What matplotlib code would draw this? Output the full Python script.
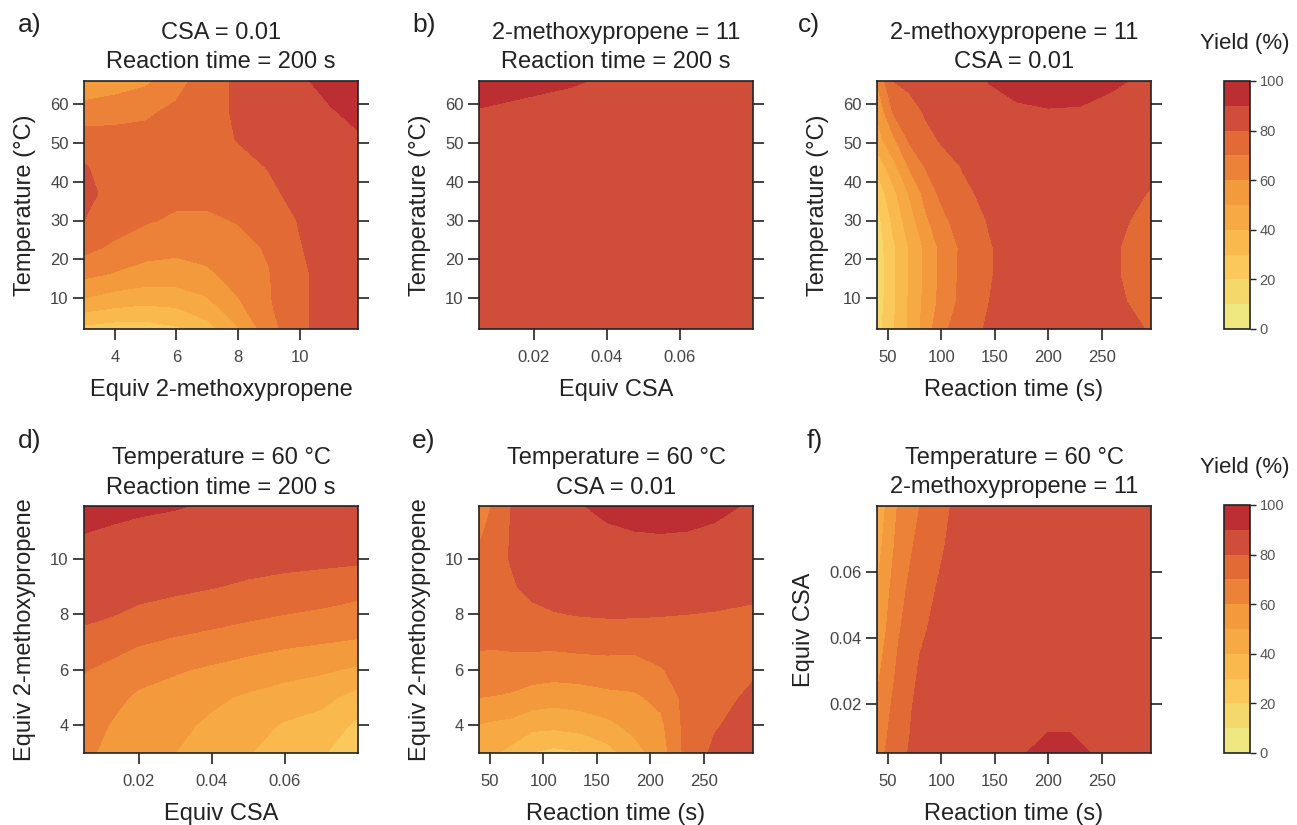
import matplotlib
matplotlib.use("Agg")
import matplotlib.pyplot as plt
import numpy as np

plt.rcParams['font.family'] = ['Liberation Sans', 'DejaVu Sans']

# yield bands (%) and their fill colours
yield_levels = [0, 10, 20, 30, 40, 50, 60, 70, 80, 90, 100]
yield_colors = ['#efe77f', '#f5d86a', '#fbc95b', '#f9b94d', '#f7aa44',
                '#f39a3d', '#ec8238', '#e26a35', '#d04d39', '#bc2e32']
cbar_ticks = [0, 20, 40, 60, 80, 100]

# a) temperature vs equiv 2-methoxypropene (CSA = 0.01, 200 s)
a_equiv = [3, 4, 5, 6, 7, 8, 9, 10, 11, 11.9]
a_temp = [2, 9, 16, 23, 30, 37, 44, 51, 58, 66]
a_yield = [
    [27, 25, 25, 28.5, 36, 49, 66, 78, 84, 86],
    [48, 44, 42, 43, 48, 59, 69, 78, 84, 86],
    [62, 59, 56, 55.5, 58, 64, 69.5, 78, 84, 86],
    [73, 68, 64, 62.5, 64, 67, 71, 79.5, 84, 86],
    [80, 75, 71, 68.5, 68.5, 70.5, 75, 80.5, 85, 86.5],
    [82.5, 77, 74, 72.5, 72.5, 74, 78, 83, 86, 87.5],
    [80.5, 77, 75, 74, 74.5, 77, 80.5, 85, 87.5, 88.5],
    [75, 74, 73, 73.5, 75.5, 80.5, 84.5, 87.5, 89, 89.3],
    [64, 66, 68.5, 72, 76, 81.5, 85.5, 88, 89.5, 91.5],
    [53, 55, 58, 66.5, 75, 82, 86, 89, 92, 95],
]

# b) temperature vs equiv CSA (2-methoxypropene = 11, 200 s)
b_csa = [0.005, 0.03, 0.055, 0.08]
b_temp = [2, 23, 45, 66]
b_yield = [
    [86, 86, 85.5, 85],
    [86.5, 86, 86, 85.5],
    [87, 86.5, 86, 85.5],
    [91.5, 90.3, 88.8, 87.5],
]

# c) temperature vs reaction time (2-methoxypropene = 11, CSA = 0.01)
c_time = [40, 55, 70, 85, 100, 120, 145, 170, 200, 230, 260, 296]
c_temp = [2, 9, 16, 23, 30, 37, 44, 51, 58, 66]
c_yield = [
    [16, 29, 41.5, 54, 67.5, 75, 81.5, 84, 85, 84.5, 82.5, 79.5],
    [14, 28, 41, 52.5, 63, 73, 80, 83, 84, 83.5, 81.5, 77.5],
    [13, 28, 40.5, 51.5, 62.5, 72.5, 79.5, 83, 84, 83.5, 81, 76],
    [14, 28, 40.5, 51.5, 62.5, 72, 79.5, 83, 84, 83.5, 81, 76],
    [16, 32.5, 45, 58, 66.5, 76, 80.5, 83.5, 84.5, 84, 82, 77.5],
    [23, 37, 50.5, 63, 72.5, 78, 82.5, 85, 86, 85.5, 83.5, 79.5],
    [33, 46.5, 61, 70.5, 76, 80.5, 84.5, 86.5, 87.5, 87, 85.5, 82],
    [46, 58, 71.5, 77, 81, 84, 86.5, 88, 88.5, 88, 86.5, 84],
    [51, 70.5, 75, 81, 84, 86, 88, 89, 89.5, 89.3, 88, 86],
    [61, 80, 83, 85, 86.5, 88, 90.2, 92, 93.5, 93, 91, 88.5],
]

# d) equiv 2-methoxypropene vs equiv CSA (60 C, 200 s)
d_csa = [0.005, 0.0125, 0.02, 0.03, 0.04, 0.05, 0.06, 0.07, 0.08]
d_equiv = [3, 4, 5, 6, 7, 8, 9, 10, 11, 11.9]
d_yield = [
    [62, 57.5, 53, 50, 45, 40.5, 35.5, 31, 24],
    [64, 59.5, 55.5, 52.5, 48, 43.5, 39, 36, 28],
    [66.5, 62.5, 58.5, 56, 52, 48.5, 45.5, 43, 36],
    [70.5, 67.5, 63.5, 61, 58.5, 56, 53.5, 51.5, 48.5],
    [77, 74, 71, 68.5, 66.5, 64, 62, 60.5, 59],
    [82, 80.5, 78, 76, 74, 72, 70, 68.5, 67],
    [85.5, 84.5, 83.5, 82, 80.5, 78.5, 77, 75.5, 73],
    [88, 87.5, 87, 86, 85, 84, 83, 82.5, 82],
    [90.2, 89.5, 89, 88.5, 88, 87.3, 86.5, 86, 85.5],
    [92.5, 91.5, 90.8, 90.3, 89.5, 88.8, 88, 87.5, 87],
]

# e) equiv 2-methoxypropene vs reaction time (60 C, CSA = 0.01)
e_time = [40, 55, 70, 90, 110, 135, 160, 185, 210, 235, 260, 296]
e_equiv = [3, 4, 5, 6, 7, 8, 9, 10, 11, 11.9]
e_yield = [
    [45, 41, 37, 29.5, 27, 29, 36, 46, 55, 74, 82, 88],
    [49.5, 48, 47, 43, 42.5, 44.5, 47.5, 53, 58, 74, 79, 85],
    [60, 59.5, 58.5, 55.5, 54, 55, 57.5, 58.5, 62.5, 73.5, 76.5, 82],
    [66.5, 66, 66, 65, 64.5, 65, 65.5, 65.5, 69.5, 73.5, 75.5, 78.5],
    [71.5, 71.5, 72, 72.5, 72.5, 73.5, 74, 73.5, 74, 75.5, 76.5, 77],
    [74.5, 75.5, 76.5, 78, 79.5, 80.5, 81, 81, 80.5, 80, 79.5, 78.5],
    [75.5, 77.5, 79, 82.5, 84, 85.5, 86, 86.5, 86, 85, 84, 82.5],
    [73, 77.5, 80.5, 84.5, 86.5, 88, 88.5, 89, 89, 88.5, 87.5, 86],
    [67.5, 75, 80.5, 85.5, 88, 89.5, 89.5, 90, 90.1, 90, 89.5, 88],
    [64, 72, 80, 85.5, 88.5, 89.8, 91, 91.8, 92, 91.5, 91, 89.5],
]

# f) equiv CSA vs reaction time (60 C, 2-methoxypropene = 11)
f_time = [40, 60, 80, 110, 150, 180, 200, 220, 240, 270, 296]
f_csa = [0.005, 0.01, 0.0175, 0.03, 0.0425, 0.055, 0.0675, 0.08]
f_yield = [
    [66, 77, 84, 87, 88.5, 90, 91.2, 91.2, 90, 88.5, 86],
    [64.5, 76, 83.5, 87, 88.5, 89.3, 90.2, 90.2, 89.3, 88.5, 86],
    [62, 75, 83, 87, 88, 88.7, 89, 89, 88.7, 88.3, 86],
    [57.5, 72, 81, 86, 87.5, 88, 88, 88, 88, 87.7, 86],
    [53, 69, 78.5, 85, 87, 87.8, 88, 88, 87.8, 87.5, 86],
    [50, 66.5, 76, 84, 86.5, 87.5, 88, 88, 87.7, 87.3, 86],
    [46, 63.5, 73, 82, 86.5, 87.3, 87.5, 87.5, 87.3, 87, 86],
    [43, 61, 70, 80.5, 86, 87.2, 87.5, 87.5, 87.2, 87, 86],
]

W, H = 1297, 825
fig = plt.figure(figsize=(W / 100, H / 100), dpi=100)


def px_rect(x0, y0, x1, y1):
    return [x0 / W, 1 - y1 / H, (x1 - x0) / W, (y1 - y0) / H]


temp_ticks = [10, 20, 30, 40, 50, 60]
equiv_ticks = [4, 6, 8, 10]
csa_ticks = [0.02, 0.04, 0.06]
time_ticks = [50, 100, 150, 200, 250]

panels = [
    dict(tag='a)', x=a_equiv, y=a_temp, z=a_yield, xlim=(3, 11.9), ylim=(2, 66),
         xticks=equiv_ticks, yticks=temp_ticks,
         xlabel='Equiv 2-methoxypropene', ylabel='Temperature (°C)',
         title='CSA = 0.01\nReaction time = 200 s', rect=(84, 81, 358, 329)),
    dict(tag='b)', x=b_csa, y=b_temp, z=b_yield, xlim=(0.005, 0.08), ylim=(2, 66),
         xticks=csa_ticks, yticks=temp_ticks,
         xlabel='Equiv CSA', ylabel='Temperature (°C)',
         title='2-methoxypropene = 11\nReaction time = 200 s', rect=(479, 81, 753, 329)),
    dict(tag='c)', x=c_time, y=c_temp, z=c_yield, xlim=(40, 296), ylim=(2, 66),
         xticks=time_ticks, yticks=temp_ticks,
         xlabel='Reaction time (s)', ylabel='Temperature (°C)',
         title='2-methoxypropene = 11\nCSA = 0.01', rect=(877, 81, 1151, 329)),
    dict(tag='d)', x=d_csa, y=d_equiv, z=d_yield, xlim=(0.005, 0.08), ylim=(3, 11.9),
         xticks=csa_ticks, yticks=equiv_ticks,
         xlabel='Equiv CSA', ylabel='Equiv 2-methoxypropene',
         title='Temperature = 60 °C\nReaction time = 200 s', rect=(84, 506, 358, 753)),
    dict(tag='e)', x=e_time, y=e_equiv, z=e_yield, xlim=(40, 296), ylim=(3, 11.9),
         xticks=time_ticks, yticks=equiv_ticks,
         xlabel='Reaction time (s)', ylabel='Equiv 2-methoxypropene',
         title='Temperature = 60 °C\nCSA = 0.01', rect=(479, 506, 753, 753)),
    dict(tag='f)', x=f_time, y=f_csa, z=f_yield, xlim=(40, 296), ylim=(0.005, 0.08),
         xticks=time_ticks, yticks=csa_ticks,
         xlabel='Reaction time (s)', ylabel='Equiv CSA',
         title='Temperature = 60 °C\n2-methoxypropene = 11', rect=(877, 506, 1151, 753)),
]

tag_pos = [(18, 32), (412, 32), (798, 32), (18, 448), (412, 448), (807, 448)]

cs = None
for p, (tx, ty) in zip(panels, tag_pos):
    ax = fig.add_axes(px_rect(*p['rect']))
    cs = ax.contourf(p['x'], p['y'], np.array(p['z']), levels=yield_levels,
                     colors=yield_colors, antialiased=False)
    ax.set_xlim(*p['xlim'])
    ax.set_ylim(*p['ylim'])
    ax.set_xticks(p['xticks'], [f'{v:g}' for v in p['xticks']])
    ax.set_yticks(p['yticks'], [f'{v:g}' for v in p['yticks']])
    ax.tick_params(axis='both', direction='out', length=8, width=1.2,
                   labelsize=12, labelcolor='#444444', color='#222222')
    ax.tick_params(axis='x', pad=7)
    ax.tick_params(axis='y', pad=3, right=True)
    for s in ax.spines.values():
        s.set_linewidth(1.2)
        s.set_color('#222222')
    ax.set_xlabel(p['xlabel'], fontsize=17, labelpad=10, color='#222222')
    ax.set_ylabel(p['ylabel'], fontsize=17, labelpad=10, color='#222222')
    ax.set_title(p['title'], fontsize=17, pad=9, linespacing=1.42, color='#222222')
    fig.text(tx / W, 1 - ty / H, p['tag'], fontsize=19, color='#222222',
             ha='left', va='baseline')

# the two colour keys
for top, bot, title_y in [(81, 329, 49), (505, 753, 473)]:
    cax = fig.add_axes(px_rect(1224, top, 1250, bot))
    cb = fig.colorbar(cs, cax=cax, ticks=cbar_ticks)
    cb.outline.set_linewidth(1.2)
    cb.outline.set_edgecolor('#222222')
    cax.tick_params(length=4, width=1, labelsize=10.5, labelcolor='#555555',
                    color='#222222', pad=3)
    fig.text(1245 / W, 1 - title_y / H, 'Yield (%)', fontsize=16, color='#222222',
             ha='center', va='baseline')

fig.savefig('out.png', dpi=100)
